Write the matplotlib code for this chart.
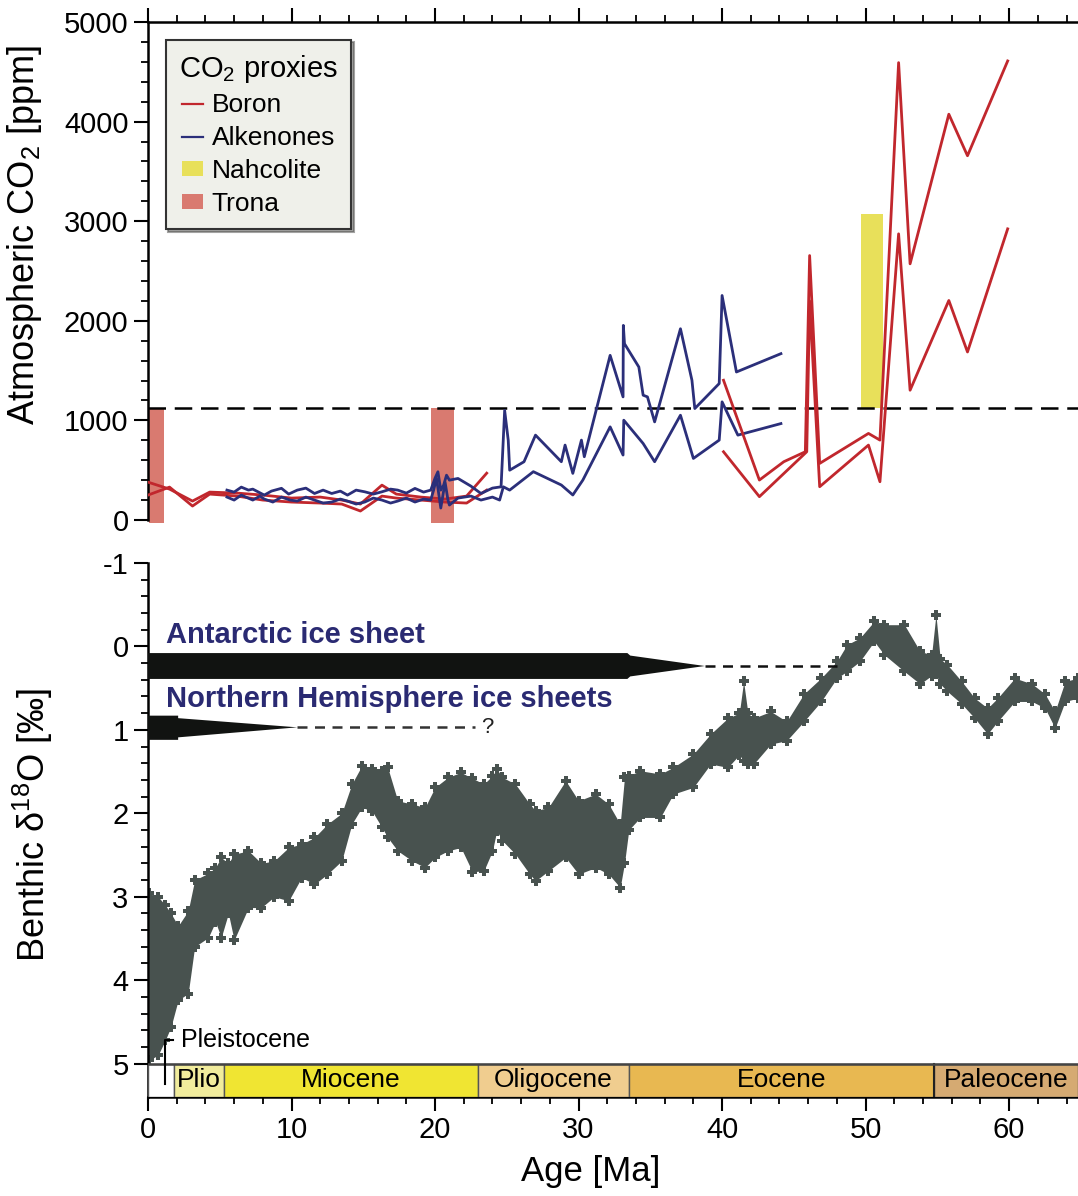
import matplotlib
matplotlib.use('Agg')
import matplotlib.pyplot as plt
from matplotlib.lines import Line2D
from matplotlib.patches import Patch
from matplotlib.ticker import MultipleLocator, FixedLocator

plt.rcParams['font.family'] = ['Liberation Sans', 'DejaVu Sans']
plt.rcParams['mathtext.fontset'] = 'custom'
plt.rcParams['mathtext.rm'] = 'Liberation Sans'
plt.rcParams['mathtext.default'] = 'regular'
plt.rcParams['axes.unicode_minus'] = False

# ---------------- CO2 proxies (ppm) ----------------
boron_young_age = [0, 1.5, 3.1, 4.3, 6.2, 8.0, 10.0, 12.0, 13.5, 14.8, 16.3, 17.3, 19.0, 20.7, 22.2, 23.6]
boron_young_hi = [380, 310, 190, 280, 270, 250, 220, 230, 200, 160, 350, 260, 230, 210, 240, 470]
boron_young_lo = [250, 330, 140, 260, 240, 200, 180, 170, 160, 90, 240, 220, 200, 180, 170, 300]

boron_old_hi_age = [40.1, 42.6, 44.3, 45.8, 46.1, 46.8, 50.2, 51.0, 52.3, 53.1, 55.8, 57.1, 59.9]
boron_old_hi = [1403, 401, 585, 685, 2655, 568, 869, 802, 4592, 2572, 4074, 3657, 4609]
boron_old_lo_age = [40.1, 42.6, 45.9, 46.1, 46.8, 50.2, 51.0, 52.3, 53.1, 55.8, 57.1, 59.9]
boron_old_lo = [685, 234, 685, 2200, 334, 752, 384, 2873, 1303, 2204, 1687, 2923]

alk_hi_age = [5.5, 6.0, 6.5, 7.0, 7.3, 8.1, 8.6, 9.3, 9.8, 10.4, 11.0, 11.6, 12.2, 12.8, 13.4, 13.9,
              14.5, 15.1, 15.7, 16.3, 16.9, 17.4, 18.0, 18.6, 19.2, 19.7, 20.0, 20.2, 20.4, 20.6, 20.8,
              21.0, 21.6, 22.5, 23.2, 24.0, 24.6, 24.85, 25.1, 25.2, 26.2, 27.0, 28.8, 29.06,
              29.6, 30.2, 30.4, 32.2, 33.1, 33.12, 33.2, 34.2, 34.5, 34.8, 35.3, 37.1, 37.9, 38.1,
              39.8, 40.0, 41.0, 44.1]
alk_hi = [300, 280, 330, 300, 310, 250, 290, 318, 260, 300, 320, 266, 300, 266, 290, 250,
          300, 283, 260, 283, 310, 300, 270, 317, 280, 300, 420, 484, 300, 350, 450,
          400, 417, 340, 266, 320, 333, 1100, 800, 500, 585, 852, 585, 752,
          468, 802, 635, 1653, 1236, 1954, 1770, 1536, 1253, 1236, 985, 1920, 1403, 1119,
          1370, 2254, 1486, 1670]
alk_lo_age = [5.5, 6.0, 6.5, 7.3, 7.8, 8.1, 8.7, 9.3, 9.9, 10.4, 11.0, 11.6, 12.2, 12.8, 13.4, 13.9,
              14.5, 15.1, 15.7, 16.3, 16.9, 17.4, 18.0, 18.6, 19.2, 19.7, 19.9, 20.1, 20.4, 20.7, 20.9,
              21.0, 21.6, 22.5, 23.2, 24.0, 24.5, 24.76, 25.2, 26.85, 28.8, 29.6, 30.3,
              32.2, 33.1, 33.15, 34.5, 35.3, 37.1, 38.0, 39.8, 40.0, 41.1, 44.1]
alk_lo = [230, 200, 250, 200, 240, 210, 180, 230, 200, 190, 230, 200, 170, 180, 210, 190,
          160, 180, 220, 200, 170, 190, 220, 180, 210, 200, 300, 420, 120, 380, 200,
          150, 220, 240, 200, 230, 200, 333, 300, 485, 351, 251, 401,
          935, 652, 1002, 768, 585, 1052, 618, 802, 1186, 852, 968]

trona_start = [0.1, 19.7]
trona_end = [1.1, 21.3]
trona_low, trona_high = -30, 1120
nahcolite_start, nahcolite_end = 49.7, 51.2
nahcolite_low, nahcolite_high = 1120, 3070
co2_threshold = 1120

# ---------------- Benthic d18O envelope (permil) ----------------
d18o_age = [0.05, 0.7, 1.2, 1.6, 2.1, 2.8, 3.25, 4.2, 4.7, 5.1, 5.6, 6.0, 7.0, 7.9, 8.8, 9.8, 10.7, 11.6,
            12.5, 13.5, 14.2, 14.9, 15.6, 16.3, 16.7, 17.4, 18.4, 19.3, 20.0, 20.9, 21.8, 22.6, 23.4,
            24.0, 24.3, 24.7, 25.6, 26.6, 27.0, 27.9, 29.1, 30.0, 31.2, 32.1, 32.9, 33.2, 33.5, 34.3,
            35.7, 36.6, 38.0, 39.2, 40.4, 41.2, 41.5, 41.8, 42.2, 43.4, 44.5, 45.7, 46.9, 48.0, 48.7,
            49.6, 50.6, 51.3, 52.7, 53.8, 54.6, 54.9, 55.2, 55.7, 56.7, 57.6, 58.5, 59.2, 60.4, 61.6,
            62.5, 63.2, 63.9, 64.8]
d18o_top = [2.96, 3.0, 3.1, 3.2, 3.35, 3.17, 2.8, 2.72, 2.65, 2.53, 2.6, 2.49, 2.45, 2.6, 2.57, 2.41, 2.37,
            2.29, 2.13, 2.0, 1.65, 1.43, 1.47, 1.49, 1.45, 1.85, 1.89, 1.93, 1.69, 1.57, 1.51, 1.58,
            1.65, 1.55, 1.47, 1.57, 1.65, 1.89, 1.97, 1.93, 1.61, 1.85, 1.77, 1.89, 2.13, 1.57, 1.55,
            1.49, 1.53, 1.45, 1.29, 1.05, 0.86, 0.8, 0.42, 0.8, 0.86, 0.78, 0.9, 0.57, 0.38, 0.18,
            -0.02, -0.1, -0.3, -0.26, -0.26, 0.06, 0.1, -0.38, 0.15, 0.22, 0.42, 0.62, 0.74, 0.62,
            0.38, 0.45, 0.57, 0.78, 0.42, 0.38]
d18o_bot = [4.96, 4.9, 4.72, 4.56, 4.24, 4.16, 3.6, 3.49, 3.3, 3.49, 3.2, 3.52, 3.13, 3.13, 3.0, 3.05, 2.77,
            2.85, 2.73, 2.57, 2.13, 1.93, 1.97, 2.17, 2.29, 2.45, 2.57, 2.65, 2.53, 2.45, 2.41, 2.7,
            2.69, 2.45, 2.21, 2.33, 2.49, 2.73, 2.81, 2.69, 2.53, 2.73, 2.65, 2.73, 2.89, 2.6, 2.2,
            2.05, 2.05, 1.77, 1.69, 1.41, 1.45, 1.3, 1.37, 1.41, 1.41, 1.17, 1.13, 0.9, 0.66, 0.38,
            0.3, 0.18, -0.06, 0.1, 0.3, 0.45, 0.35, 0.33, 0.45, 0.54, 0.69, 0.86, 1.05, 0.9,
            0.66, 0.66, 0.74, 0.98, 0.66, 0.62]

# ice sheets: [full until, taper ends, dashed until]
ant_ice_age = [33.4, 38.8, 48.0]
nh_ice_age = [2.1, 10.4, 22.8]

# epochs
epoch_names = ['', 'Plio', 'Miocene', 'Oligocene', 'Eocene', 'Paleocene']
epoch_start = [0, 1.8, 5.3, 23.0, 33.5, 54.8]
epoch_end = [1.8, 5.3, 23.0, 33.5, 54.8, 64.8]
epoch_colors = ['#ffffff', '#f1ec9c', '#f0e532', '#f0cd8f', '#e8b851', '#d5aa72']

RED = '#c1272d'
BLUE = '#2b2f7a'
TRONA = '#d97a70'
NAHC = '#e8e05a'
CLOUD = '#48524f'
NAVY = '#2a2a72'

XMAX = 64.8
fig = plt.figure(figsize=(10.78, 11.96), dpi=100)
ax1 = fig.add_axes([0.1373, 0.5619, 1 - 0.1373, 0.4197])
ax2 = fig.add_axes([0.1373, 0.0828, 1 - 0.1373, 0.4465])

TICKFS = 21
# ---------------- top panel ----------------
for s, e in zip(trona_start, trona_end):
    ax1.fill_between([s, e], trona_low, trona_high, color=TRONA, lw=0, zorder=1)
ax1.fill_between([nahcolite_start, nahcolite_end], nahcolite_low, nahcolite_high, color=NAHC, lw=0, zorder=1)
ax1.axhline(co2_threshold, color='black', lw=1.8, ls=(0, (7, 3.5)), zorder=2)

lw = 2.0
ax1.plot(boron_young_age, boron_young_hi, color=RED, lw=lw, zorder=3)
ax1.plot(boron_young_age, boron_young_lo, color=RED, lw=lw, zorder=3)
ax1.plot(alk_hi_age, alk_hi, color=BLUE, lw=lw, zorder=3)
ax1.plot(alk_lo_age, alk_lo, color=BLUE, lw=lw, zorder=3)
ax1.plot(boron_old_hi_age, boron_old_hi, color=RED, lw=lw, zorder=3)
ax1.plot(boron_old_lo_age, boron_old_lo, color=RED, lw=lw, zorder=3)

ax1.set_xlim(0, XMAX)
ax1.set_ylim(-40, 5000)
ax1.spines['bottom'].set_visible(False)
ax1.spines['right'].set_visible(False)
ax1.spines['left'].set_bounds(0, 5000)
for sp in ('left', 'top'):
    ax1.spines[sp].set_linewidth(1.8)
ax1.xaxis.tick_top()
ax1.xaxis.set_major_locator(MultipleLocator(10))
ax1.xaxis.set_minor_locator(MultipleLocator(2))
ax1.tick_params(axis='x', which='both', labeltop=False, direction='out')
ax1.yaxis.set_major_locator(MultipleLocator(1000))
ax1.yaxis.set_minor_locator(MultipleLocator(200))
ax1.tick_params(which='major', length=10, width=1.5, labelsize=TICKFS, pad=4)
ax1.tick_params(which='minor', length=5, width=1.3)
ax1.set_ylabel('Atmospheric CO$_2$ [ppm]', fontsize=26)
ax1.yaxis.set_label_coords(-0.112, 0.575)

handles = [Line2D([], [], color=RED, lw=1.6), Line2D([], [], color=BLUE, lw=1.6),
           Patch(facecolor=NAHC, edgecolor='none'), Patch(facecolor=TRONA, edgecolor='none')]
leg = ax1.legend(handles, ['Boron', 'Alkenones', 'Nahcolite', 'Trona'], title='CO$_2$ proxies',
                 loc='upper left', bbox_to_anchor=(0.019, 0.965), fontsize=19, title_fontsize=21,
                 frameon=True, fancybox=False, shadow=True, handlelength=0.8, handleheight=0.5,
                 handletextpad=0.35, labelspacing=0.33, borderpad=0.5, borderaxespad=0)
leg.get_frame().set_facecolor('#eff0ea')
leg.get_frame().set_edgecolor('#333333')
leg.get_frame().set_linewidth(1.5)
leg.get_frame().set_alpha(1)

# ---------------- bottom panel ----------------
ax2.fill_between(d18o_age, d18o_top, d18o_bot, color=CLOUD, lw=0, zorder=2)
ax2.scatter(d18o_age, d18o_top, marker='P', s=55, color=CLOUD, lw=0, zorder=2)
ax2.scatter(d18o_age, d18o_bot, marker='P', s=55, color=CLOUD, lw=0, zorder=2)

# Antarctic ice sheet
a_full, a_tip, a_dash = ant_ice_age
ax2.fill([0, a_full, a_full + 0.2, a_tip, a_full + 0.2, a_full, 0],
         [0.08, 0.08, 0.11, 0.235, 0.36, 0.39, 0.39], color='#111311', lw=0, zorder=3)
ax2.plot([a_tip, a_dash], [0.235, 0.235], color='#111111', lw=1.8, ls=(0, (4, 3)), zorder=3)
# Northern hemisphere ice sheets
n_full, n_tip, n_dash = nh_ice_age
ax2.fill([0, n_full, n_full, n_tip, n_full, n_full, 0],
         [0.83, 0.83, 0.86, 0.97, 1.09, 1.12, 1.12], color='#111311', lw=0, zorder=3)
ax2.plot([n_tip, n_dash], [0.97, 0.97], color='#333333', lw=1.8, ls=(0, (4, 3)), zorder=3)
ax2.text(n_dash + 0.4, 0.97, '?', fontsize=16, va='center', ha='left', color='#222222')

ax2.text(1.25, -0.04, 'Antarctic ice sheet', fontsize=21, fontweight='bold', color=NAVY, va='baseline')
ax2.text(1.25, 0.73, 'Northern Hemisphere ice sheets', fontsize=21, fontweight='bold', color=NAVY,
         va='baseline')

# epoch bar
ax2.barh(5.2, [e - s for s, e in zip(epoch_start, epoch_end)], left=epoch_start, height=0.4,
         color=epoch_colors, edgecolor='#555555', lw=1.0, zorder=4)
ax2.plot([54.8, 54.8], [5.0, 5.4], color='#222222', lw=1.5, zorder=5)
ax2.plot([0, XMAX], [5.0, 5.0], color='#444444', lw=1.8, zorder=5)
for name, s, e in zip(epoch_names, epoch_start, epoch_end):
    if name:
        ax2.text((s + e) / 2, 5.2, name, ha='center', va='center', fontsize=19, zorder=6)

# Pleistocene marker
ax2.plot([1.2, 1.2, 1.75], [5.25, 4.72, 4.72], color='black', lw=1.5, zorder=6)
ax2.text(2.3, 4.8, 'Pleistocene', fontsize=18, va='baseline', ha='left')

ax2.set_xlim(0, XMAX)
ax2.set_ylim(5.4, -1)
ax2.spines['top'].set_visible(False)
ax2.spines['right'].set_visible(False)
for sp in ('left', 'bottom'):
    ax2.spines[sp].set_linewidth(1.8)
ax2.xaxis.set_major_locator(MultipleLocator(10))
ax2.xaxis.set_minor_locator(MultipleLocator(2))
ax2.yaxis.set_major_locator(FixedLocator([-1, 0, 1, 2, 3, 4, 5]))
ax2.yaxis.set_minor_locator(FixedLocator([v / 10 for v in range(-10, 51, 2) if v % 10 != 0]))
ax2.tick_params(which='major', length=10, width=1.5, labelsize=TICKFS, pad=4)
ax2.tick_params(which='minor', length=5, width=1.3)
ax2.set_ylabel(r'Benthic δ$^{18}$O [‰]', fontsize=26)
ax2.yaxis.set_label_coords(-0.10, 0.51)
ax2.set_xlabel('Age [Ma]', fontsize=25)
ax2.xaxis.set_label_coords(0.476, -0.108)

fig.savefig('out.png', dpi=100)
